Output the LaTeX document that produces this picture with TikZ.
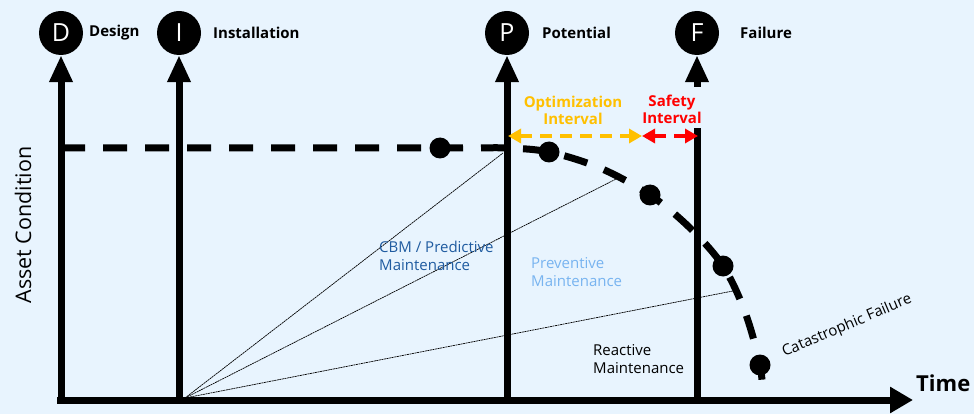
\documentclass[tikz,border=0pt]{standalone}
\usepackage{fontspec}
\setmainfont{Open Sans}
\usetikzlibrary{arrows.meta}
\definecolor{bg}{RGB}{232,244,254}
\definecolor{optc}{RGB}{255,192,0}
\definecolor{safec}{RGB}{255,0,0}
\definecolor{cbmc}{RGB}{31,91,160}
\definecolor{prevc}{RGB}{120,180,240}
\begin{document}
\begin{tikzpicture}[x=1pt,y=-1pt,
  axisline/.style={line width=7pt},
  uparrow/.style={line width=7pt,-{Triangle[length=27pt,width=22pt]}},
  timearrow/.style={line width=7pt,-{Triangle[length=23pt,width=25pt]}},
  circ/.style={circle,fill=black,text=white,minimum size=44pt,inner sep=0pt,font=\fontsize{25}{25}\selectfont},
  toplabel/.style={anchor=west,inner sep=0pt,font=\bfseries\fontsize{15}{17}\selectfont},
  condline/.style={line width=7pt,dash pattern=on 24pt off 18pt},
  dot/.style={circle,fill=black,minimum size=21pt,inner sep=0pt},
  fanline/.style={line width=0.7pt,dash pattern=on 2pt off 0.6pt},
  optarrow/.style={draw=optc,line width=3.5pt,dash pattern=on 12pt off 8pt,{Triangle[length=13pt,width=14pt,fill=optc]}-{Triangle[length=13pt,width=14pt,fill=optc]}},
  safearrow/.style={draw=safec,line width=3.5pt,dash pattern=on 12pt off 8pt,{Triangle[length=13pt,width=14pt,fill=safec]}-{Triangle[length=13pt,width=14pt,fill=safec]}},
  midlabel/.style={anchor=west,align=left,inner sep=0pt,font=\fontsize{15}{18}\selectfont},
  intlabel/.style={align=center,inner sep=0pt,font=\bfseries\fontsize{15}{17}\selectfont}]
\fill[bg] (0,0) rectangle (974,414);
\useasboundingbox (0,0) rectangle (974,414);

% circles
\node[circ] (D) at (61,33) {D};
\node[circ] (I) at (179,33) {I};
\node[circ] (P) at (507,33) {P};
\node[circ] (F) at (697,33) {F};

\node[toplabel] (Dl) at (89,33) {Design};
\node[toplabel] (Il) at (213,33) {Installation};
\node[toplabel] (Pl) at (542,33) {Potential};
\node[toplabel] (Fl) at (740,33) {Failure};

% bottom coordinates
\coordinate (D0) at (61,400);
\coordinate (I0) at (179,400);
\coordinate (P0) at (507,400);
\coordinate (F0) at (697,400);
\coordinate (Fa) at (697,128);
\coordinate (Fb) at (697,87);
\coordinate (O) at (57,400);
\coordinate (T) at (913,400);

% fan lines
\coordinate (fan) at (185,398);
\coordinate (fan1) at (503,153);
\coordinate (fan2) at (622,176);
\coordinate (fan3) at (738,290);
\draw[fanline] (fan) -- (fan1);
\draw[fanline] (fan) -- (fan2);
\draw[fanline] (fan) -- (fan3);

% condition curve
\draw[condline] plot[smooth,tension=0.55] coordinates {(61,148) (440,148) (505,148) (549,152) (600,168) (650,195) (690,228) (723,266) (745,312) (760,365) (763,400)};

% verticals
\draw[uparrow] (D0) -- (D.south);
\draw[uparrow] (I0) -- (I.south);
\draw[uparrow] (P0) -- (P.south);
\draw[axisline] (F0) -- (Fa);
\draw[uparrow] (Fb) -- (F.south);
\draw[timearrow] (O) -- (T);

% dots
\node[dot] (d1) at (440,148) {};
\node[dot] (d2) at (549,152) {};
\node[dot] (d3) at (650,195) {};
\node[dot] (d4) at (723,266) {};
\node[dot] (d5) at (760,365) {};

% intervals
\coordinate (ia) at (508,136);
\coordinate (ib) at (642,136);
\coordinate (ic) at (698,136);
\draw[optarrow] (ia) -- (ib);
\draw[safearrow] (ib) -- (ic);
\node[intlabel,text=optc] (optl) at (573,110) {Optimization\\Interval};
\node[intlabel,text=safec] (safel) at (672,109) {Safety\\Interval};

% labels
\node[midlabel,text=cbmc] (cbm) at (379,256) {CBM / Predictive\\Maintenance};
\node[midlabel,text=prevc] (prev) at (531,272) {Preventive\\Maintenance};
\node[midlabel,text=black] (reac) at (593,359) {Reactive\\Maintenance};
\node[rotate=23,inner sep=0pt,font=\fontsize{15}{17}\selectfont] (cat) at (847,326) {Catastrophic Failure};
\node[anchor=west,inner sep=0pt,font=\bfseries\fontsize{22}{24}\selectfont] (time) at (916,383) {Time};
\node[rotate=90,inner sep=0pt,font=\fontsize{21.5}{24}\selectfont] (asset) at (23,225) {Asset Condition};
\end{tikzpicture}
\end{document}
